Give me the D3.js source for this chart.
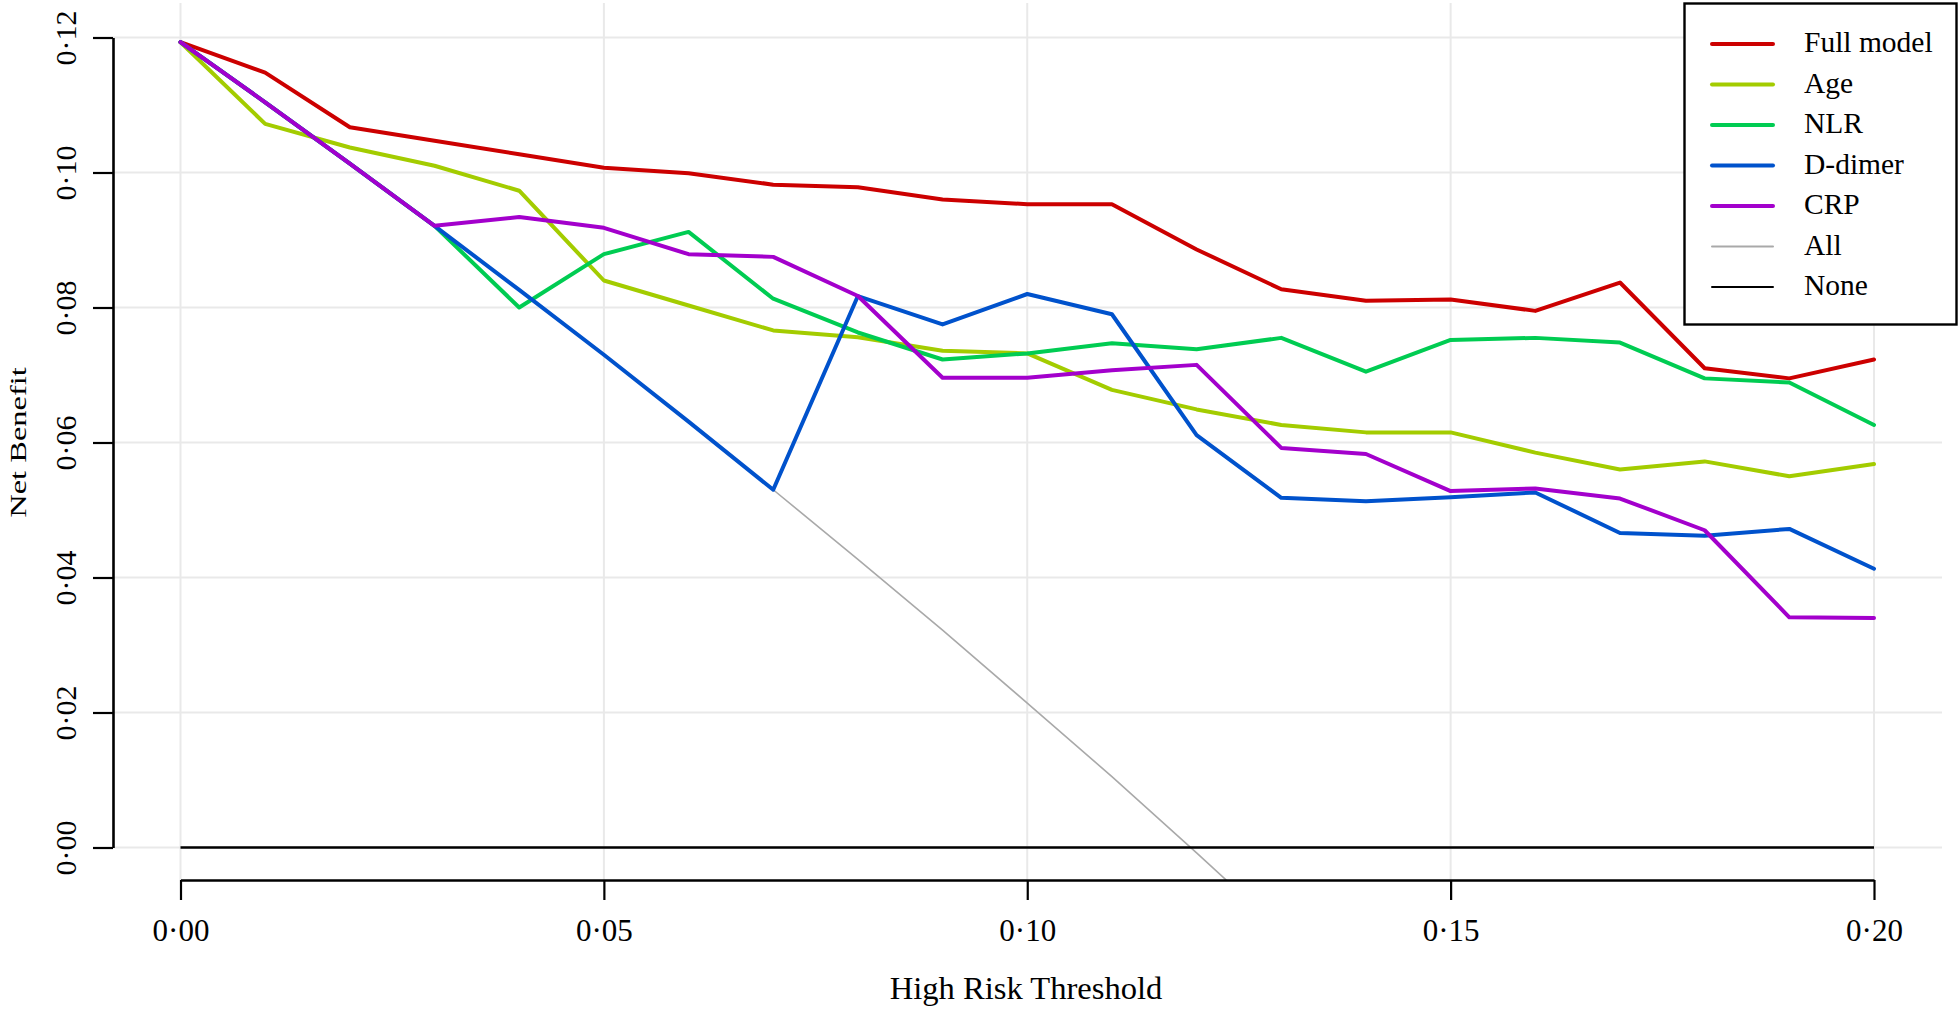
<!DOCTYPE html>
<html>
<head>
<meta charset="utf-8">
<script src="https://cdn.jsdelivr.net/npm/d3@7"></script>
<style>
  html, body { margin: 0; padding: 0; background: #ffffff; }
  svg { display: block; }
  text { font-family: "Liberation Serif", "Times New Roman", serif; fill: #000; }
</style>
</head>
<body>
<svg id="chart" width="1960" height="1009"></svg>
<script>
// ---- data ----
const thresholds = [0.00, 0.01, 0.02, 0.03, 0.04, 0.05, 0.06, 0.07, 0.08, 0.09, 0.10,
                    0.11, 0.12, 0.13, 0.14, 0.15, 0.16, 0.17, 0.18, 0.19, 0.20];
const fullModel = [0.1193, 0.1148, 0.1067, 0.1047, 0.1027, 0.1007, 0.0999, 0.0982, 0.0978, 0.0960, 0.0953,
                   0.0953, 0.0886, 0.0827, 0.0810, 0.0812, 0.0795, 0.0837, 0.0710, 0.0695, 0.0723];
const age = [0.1193, 0.1072, 0.1037, 0.1010, 0.0973, 0.0840, 0.0803, 0.0766, 0.0756, 0.0736, 0.0732,
             0.0678, 0.0649, 0.0626, 0.0615, 0.0615, 0.0585, 0.0560, 0.0572, 0.0550, 0.0568];
const nlr = [0.1193, 0.1104, 0.1013, 0.0921, 0.0800, 0.0879, 0.0912, 0.0813, 0.0763, 0.0723, 0.0732,
             0.0747, 0.0738, 0.0755, 0.0705, 0.0752, 0.0755, 0.0748, 0.0695, 0.0689, 0.0626];
const dDimer = [0.1193, 0.1104, 0.1013, 0.0921, 0.0826, 0.0730, 0.0631, 0.0530, 0.0817, 0.0775, 0.0820,
                0.0790, 0.0611, 0.0518, 0.0513, 0.0519, 0.0526, 0.0466, 0.0462, 0.0472, 0.0413];
const crp = [0.1193, 0.1104, 0.1013, 0.0921, 0.0934, 0.0918, 0.0879, 0.0875, 0.0817, 0.0696, 0.0696,
             0.0707, 0.0715, 0.0592, 0.0583, 0.0528, 0.0532, 0.0517, 0.0470, 0.0341, 0.0340];
const allThresholds = [0.00, 0.01, 0.02, 0.03, 0.04, 0.05, 0.06, 0.07, 0.08, 0.09, 0.10, 0.11, 0.12, 0.13];
const treatAll = [0.1193, 0.1104, 0.1013, 0.0921, 0.0826, 0.0730, 0.0631, 0.0530, 0.0427, 0.0322, 0.0214,
                  0.0105, -0.0008, -0.0123];
const treatNone = [0, 0, 0, 0, 0, 0, 0, 0, 0, 0, 0, 0, 0, 0, 0, 0, 0, 0, 0, 0, 0];

const seriesNames = ["Full model", "Age", "NLR", "D-dimer", "CRP", "All", "None"];
const seriesColors = ["#CC0000", "#A3CC00", "#00CC52", "#0052CC", "#A300CC", "#A9A9A9", "#000000"];
const xTickValues = [0.00, 0.05, 0.10, 0.15, 0.20];
const yTickValues = [0.00, 0.02, 0.04, 0.06, 0.08, 0.10, 0.12];
const xTitle = "High Risk Threshold";
const yTitle = "Net Benefit";

// ---- layout ----
const svg = d3.select("#chart");
const plotLeft = 113, plotRight = 1942, plotTop = 3, plotBottom = 880;
const x = d3.scaleLinear().domain([0, 0.2]).range([180.5, 1874]);
const y = d3.scaleLinear().domain([0, 0.12]).range([847.5, 37.5]);
const fmt = d => d3.format(".2f")(d).replace(".", "\u00B7");

// grid
const grid = svg.append("g");
grid.selectAll("line.v").data(xTickValues).join("line")
  .attr("x1", d => x(d)).attr("x2", d => x(d))
  .attr("y1", plotTop).attr("y2", plotBottom)
  .attr("stroke", "#e9e9e9").attr("stroke-width", 2);
grid.selectAll("line.h").data(yTickValues).join("line")
  .attr("x1", plotLeft).attr("x2", plotRight)
  .attr("y1", d => y(d)).attr("y2", d => y(d))
  .attr("stroke", "#e9e9e9").attr("stroke-width", 2);

// clip region
svg.append("clipPath").attr("id", "plotclip").append("rect")
  .attr("x", plotLeft).attr("y", plotTop)
  .attr("width", plotRight - plotLeft).attr("height", plotBottom - plotTop);

const line = d3.line().x(d => x(d[0])).y(d => y(d[1]));
const lines = svg.append("g").attr("clip-path", "url(#plotclip)")
  .attr("fill", "none").attr("stroke-linejoin", "round").attr("stroke-linecap", "round");

lines.append("path").datum(allThresholds.map((t, i) => [t, treatAll[i]]))
  .attr("d", line).attr("stroke", seriesColors[5]).attr("stroke-width", 1.6);
lines.append("path").datum(thresholds.map((t, i) => [t, treatNone[i]]))
  .attr("d", line).attr("stroke", seriesColors[6]).attr("stroke-width", 2.6)
  .attr("stroke-linecap", "butt");

const modelSeries = [fullModel, age, nlr, dDimer, crp];
modelSeries.forEach((vals, k) => {
  lines.append("path").datum(thresholds.map((t, i) => [t, vals[i]]))
    .attr("d", line).attr("stroke", seriesColors[k]).attr("stroke-width", 4);
});

// x axis
const xAxis = svg.append("g").attr("transform", `translate(0,${plotBottom})`)
  .call(d3.axisBottom(x).tickValues(xTickValues).tickFormat(fmt)
        .tickSize(20).tickSizeOuter(0).tickPadding(19));
xAxis.select(".domain").attr("stroke", "#000").attr("stroke-width", 2.6);
xAxis.selectAll(".tick line").attr("stroke", "#000").attr("stroke-width", 2.2);
xAxis.selectAll(".tick text").attr("font-size", 31).attr("font-family", "Liberation Serif");

// y axis
const yAxis = svg.append("g").attr("transform", `translate(${plotLeft},0)`)
  .call(d3.axisLeft(y).tickValues(yTickValues).tickFormat(fmt)
        .tickSize(20).tickSizeOuter(0));
yAxis.select(".domain").attr("stroke", "#000").attr("stroke-width", 2.6);
yAxis.selectAll(".tick line").attr("stroke", "#000").attr("stroke-width", 2.2);
yAxis.selectAll(".tick text")
  .attr("font-size", 30).attr("font-family", "Liberation Serif")
  .attr("text-anchor", "middle")
  .attr("x", 0).attr("y", -37).attr("dy", 0)
  .attr("transform", "rotate(-90)");

// axis titles
svg.append("text").attr("x", 1026).attr("y", 999)
  .attr("text-anchor", "middle").attr("font-size", 32.6).text(xTitle);
svg.append("text")
  .attr("transform", "translate(26,442.5) rotate(-90) scale(1,0.68)")
  .attr("text-anchor", "middle").attr("font-size", 32.5).text(yTitle);

// legend
const legend = svg.append("g");
legend.append("rect").attr("x", 1684.5).attr("y", 3.5).attr("width", 272).attr("height", 321)
  .attr("fill", "#fff").attr("stroke", "#000").attr("stroke-width", 2.4);
const rowY = i => 44 + i * 40.5;
seriesNames.forEach((name, i) => {
  legend.append("line")
    .attr("x1", 1712).attr("x2", 1773)
    .attr("y1", rowY(i)).attr("y2", rowY(i))
    .attr("stroke", seriesColors[i])
    .attr("stroke-width", i < 5 ? 4 : 2)
    .attr("stroke-linecap", "round");
  legend.append("text").attr("x", 1804).attr("y", rowY(i) + 8)
    .attr("font-size", 29.5).text(name);
});
</script>
</body>
</html>
